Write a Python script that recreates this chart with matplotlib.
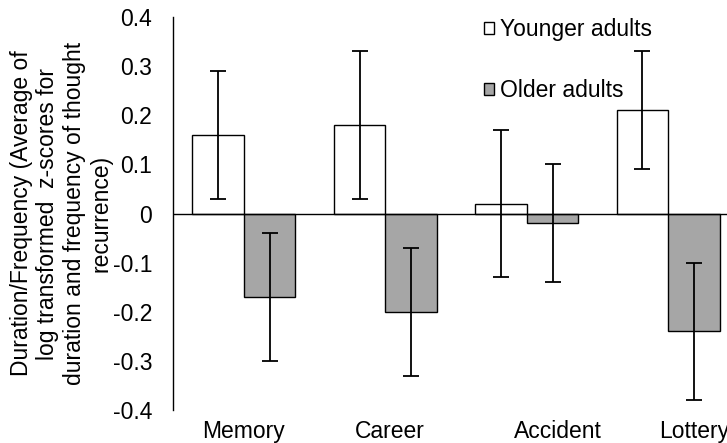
import numpy as np
import matplotlib.pyplot as plt

plt.rcParams['font.family'] = ['Liberation Sans', 'DejaVu Sans']

# data
categories = ['Memory', 'Career', 'Accident', 'Lottery']
younger = [0.16, 0.18, 0.02, 0.21]
younger_err = [0.13, 0.15, 0.15, 0.12]
older = [-0.17, -0.20, -0.02, -0.24]
older_err = [0.13, 0.13, 0.12, 0.14]
yticks = [0.4, 0.3, 0.2, 0.1, 0, -0.1, -0.2, -0.3, -0.4]
ytick_labels = ['0.4', '0.3', '0.2', '0.1', '0', '-0.1', '-0.2', '-0.3', '-0.4']

# label shifts (the original labels are not quite centred)
label_shift = [0.0, 0.035, 0.22, 0.18]

fs = 16.5
fig = plt.figure(figsize=(7.27, 4.43), dpi=100)
ax = fig.add_axes([0.238, 0.0745, 1.0165 - 0.238, 0.9616 - 0.0745])

x = np.arange(len(categories))
w = 0.364
ax.bar(x - w / 2, younger, w, color='white', edgecolor='black', linewidth=1.0,
       label='Younger adults', zorder=2)
ax.bar(x + w / 2, older, w, color='#a6a6a6', edgecolor='black', linewidth=1.0,
       label='Older adults', zorder=2)
ax.errorbar(x - w / 2, younger, yerr=younger_err, fmt='none', ecolor='black',
            elinewidth=1.3, capsize=5.5, capthick=1.3, zorder=3)
ax.errorbar(x + w / 2, older, yerr=older_err, fmt='none', ecolor='black',
            elinewidth=1.3, capsize=5.5, capthick=1.3, zorder=3)
ax.axhline(0, color='black', linewidth=1.0, zorder=4)

ax.set_xlim(-0.5, 3.5)
ax.set_ylim(-0.4, 0.4)
ax.set_yticks(yticks)
ax.set_yticklabels(ytick_labels)
ax.set_xticks(x + np.array(label_shift))
ax.set_xticklabels(categories)
ax.tick_params(axis='y', length=0, pad=15, labelsize=fs)
ax.tick_params(axis='x', length=0, pad=7, labelsize=fs)

for s in ['top', 'right', 'bottom']:
    ax.spines[s].set_visible(False)
ax.spines['left'].set_linewidth(1.0)

ax.set_ylabel('Duration/Frequency (Average of\nlog transformed  z-scores for\n'
              'duration and frequency of thought\nrecurrence)',
              fontsize=fs, labelpad=0, linespacing=1.2)

ax.legend(loc='upper left', bbox_to_anchor=(0.533, 1.02), frameon=False,
          fontsize=fs, handlelength=0.45, handleheight=0.45, handletextpad=0.25,
          labelspacing=1.65, borderaxespad=0)

fig.savefig('out.png', dpi=100)
